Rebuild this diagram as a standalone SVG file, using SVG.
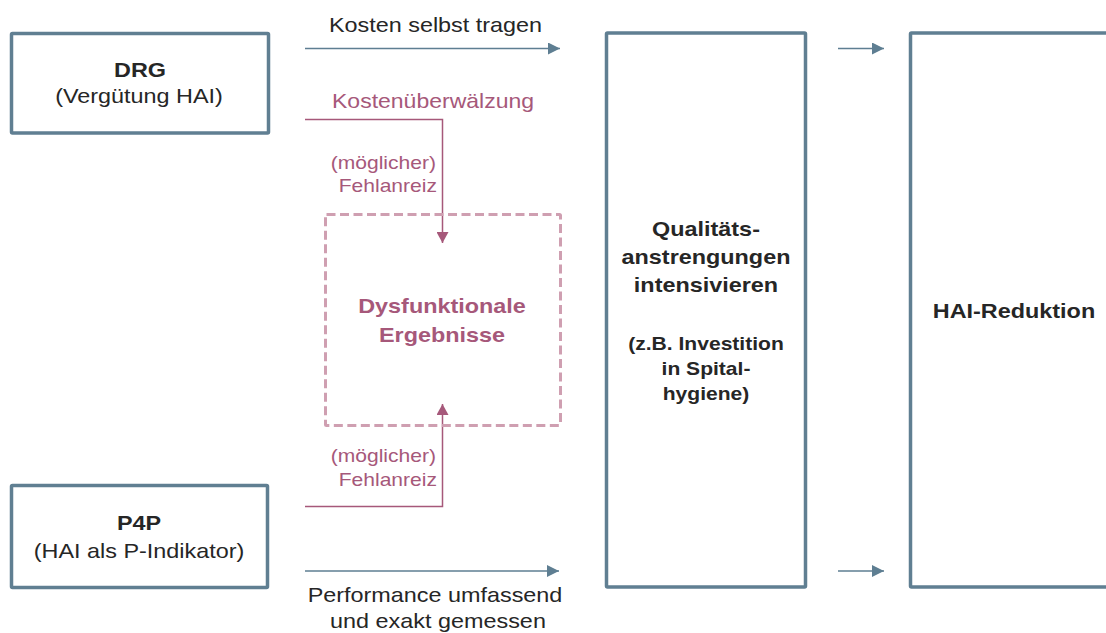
<svg xmlns="http://www.w3.org/2000/svg" width="1106" height="633" viewBox="0 0 1106 633">
<defs>
<style>
.box{fill:#fff;stroke:#607f92;stroke-width:3.5}
.dash{fill:none;stroke:#cf9fb1;stroke-width:3;stroke-dasharray:9 4.5}
.t{font-family:"Liberation Sans",Arial,sans-serif;font-size:20px;fill:#262626;text-anchor:middle}
.b{font-weight:bold}
.s{font-size:18px}
.p{fill:#a6587a}
.e{text-anchor:end}
.cb{fill:none;stroke:#5e7e92;stroke-width:1.5}
.cp{fill:none;stroke:#a6587a;stroke-width:1.5}
</style>
<marker id="ab" markerUnits="userSpaceOnUse" markerWidth="12" markerHeight="12" refX="12" refY="6" orient="auto">
<path d="M0,0 L12,6 L0,12 z" fill="#5e7e92"/>
</marker>
<marker id="ap" markerUnits="userSpaceOnUse" markerWidth="11" markerHeight="12" refX="11" refY="6" orient="auto">
<path d="M0,0 L11,6 L0,12 z" fill="#a6587a"/>
</marker>
</defs>
<rect width="1106" height="633" fill="#fff"/>
<g id="connectors">
<line class="cb" x1="305" y1="48.5" x2="560" y2="48.5" marker-end="url(#ab)"/>
<line class="cb" x1="305" y1="571" x2="559" y2="571" marker-end="url(#ab)"/>
<line class="cb" x1="838" y1="48.5" x2="884" y2="48.5" marker-end="url(#ab)"/>
<line class="cb" x1="838" y1="571" x2="884" y2="571" marker-end="url(#ab)"/>
<path class="cp" d="M305,119.5 H442.5 V243" marker-end="url(#ap)"/>
<path class="cp" d="M305,506.5 H442.5 V404" marker-end="url(#ap)"/>
<text class="t" transform="translate(435.5,32) scale(1.17,1)">Kosten selbst tragen</text>
<text class="t p" transform="translate(433,108) scale(1.15,1)">Kostenüberwälzung</text>
<text class="t s p e" transform="translate(436,169) scale(1.17,1)">(möglicher)</text>
<text class="t s p e" transform="translate(437,192) scale(1.17,1)">Fehlanreiz</text>
<text class="t s p e" transform="translate(436,462) scale(1.17,1)">(möglicher)</text>
<text class="t s p e" transform="translate(437,486) scale(1.17,1)">Fehlanreiz</text>
<text class="t" transform="translate(435,602) scale(1.17,1)">Performance umfassend</text>
<text class="t" transform="translate(438,628) scale(1.17,1)">und exakt gemessen</text>
</g>
<g id="drg">
<rect class="box" x="11.5" y="33.5" width="257" height="99.5" rx="1"/>
<text class="t b" transform="translate(140,77) scale(1.17,1)">DRG</text>
<text class="t" transform="translate(139,103) scale(1.17,1)">(Vergütung HAI)</text>
</g>
<g id="p4p">
<rect class="box" x="11.5" y="485.5" width="256" height="102" rx="1"/>
<text class="t b" transform="translate(139,530) scale(1.17,1)">P4P</text>
<text class="t" transform="translate(139,558) scale(1.17,1)">(HAI als P-Indikator)</text>
</g>
<g id="dysfunktional">
<rect class="dash" x="325.5" y="214.5" width="235" height="211" rx="1"/>
<text class="t b p" transform="translate(442,313) scale(1.17,1)">Dysfunktionale</text>
<text class="t b p" transform="translate(442,342) scale(1.17,1)">Ergebnisse</text>
</g>
<g id="qualitaet">
<rect class="box" x="606.5" y="33" width="199" height="554" rx="1"/>
<text class="t b" transform="translate(706,236) scale(1.17,1)">Qualitäts-</text>
<text class="t b" transform="translate(706,264) scale(1.17,1)">anstrengungen</text>
<text class="t b" transform="translate(706,292) scale(1.17,1)">intensivieren</text>
<text class="t b s" transform="translate(706,350) scale(1.17,1)">(z.B. Investition</text>
<text class="t b s" transform="translate(706,375) scale(1.17,1)">in Spital-</text>
<text class="t b s" transform="translate(706,400) scale(1.17,1)">hygiene)</text>
</g>
<g id="hai">
<rect class="box" x="910.5" y="33" width="220" height="554" rx="1"/>
<text class="t b" transform="translate(1014,318) scale(1.17,1)">HAI-Reduktion</text>
</g>
</svg>
